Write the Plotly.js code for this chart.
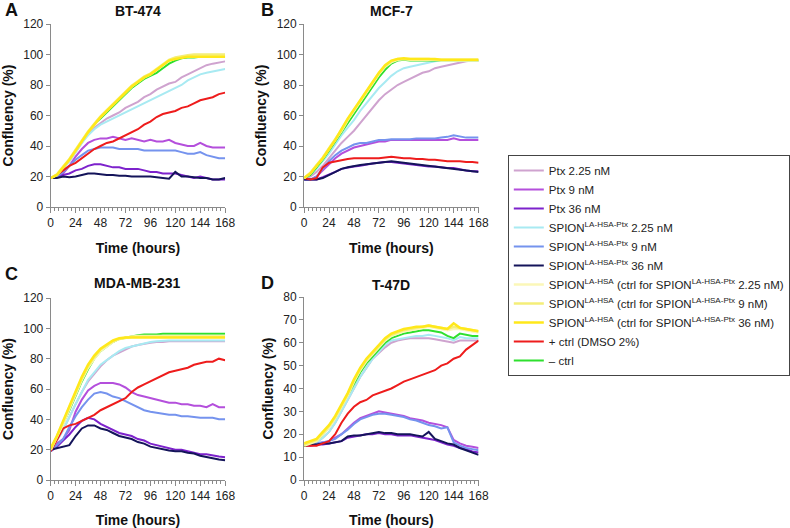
<!DOCTYPE html>
<html>
<head>
<meta charset="utf-8">
<script src="https://cdn.plot.ly/plotly-3.0.1.min.js"></script>
<style>html,body{margin:0;padding:0;background:#fff;}#chart{width:790px;height:528px;}</style>
</head>
<body>
<div id="chart"></div>
<script>
// Time points (hours)
const hours = [0,6,12,18,24,30,36,42,48,54,60,66,72,78,84,90,96,102,108,114,120,126,132,138,144,150,156,162,168];

const seriesNames = [
  'Ptx 2.25 nM',
  'Ptx 9 nM',
  'Ptx 36 nM',
  'SPION<sup>LA-HSA-Ptx</sup> 2.25 nM',
  'SPION<sup>LA-HSA-Ptx</sup> 9 nM',
  'SPION<sup>LA-HSA-Ptx</sup> 36 nM',
  'SPION<sup>LA-HSA</sup> (ctrl for SPION<sup>LA-HSA-Ptx</sup> 2.25 nM)',
  'SPION<sup>LA-HSA</sup> (ctrl for SPION<sup>LA-HSA-Ptx</sup> 9 nM)',
  'SPION<sup>LA-HSA</sup> (ctrl for SPION<sup>LA-HSA-Ptx</sup> 36 nM)',
  '+ ctrl (DMSO 2%)',
  '\u2013 ctrl'
];
const panelTitles = ['BT-474', 'MCF-7', 'MDA-MB-231', 'T-47D'];
const panelLetters = ['A', 'B', 'C', 'D'];

// Panel A: BT-474
const A_ptx225 = [19,21,25,30,36,42,48,52,55,58,60,62,65,67,69,72,74,77,79,81,82,85,87,89,91,93,94,95,95.5];
const A_ptx9   = [19,20,22,27,33,38,42,44,45,45,46,45,44,45,44,43,44,43,43,44,42,41,40,40,42,40,39,39,39];
const A_ptx36  = [19,20,21,22,24,25,27,28,28,27,26,26,25,25,25,24,23,23,22,22,22,21,20,19,20,19,18,18,18];
const A_sp225  = [19,21,25,30,36,42,47,51,54,56,58,60,62,64,66,68,70,72,74,76,78,80,83,85,87,88,89,90,90.5];
const A_sp9    = [19,20,23,27,31,34,37,38,39,39,39,38,38,38,38,37,37,37,37,37,37,36,35,35,36,34,33,32,32];
const A_sp36   = [19,19,20,19.5,20,21,22,22,21.5,21,21,20.5,20.5,20,20,20,20,19.5,19,18.5,23,20,20,19.5,19,19,18,18,19];
const A_c225   = [19,21,26,31,37,43,49,54,59,63,67,71,75,79,82,85,87,90,93,96,97.5,98.5,99,99,99,99,99,99,99];
const A_c9     = [19,21.5,26.5,31.5,37.5,43.5,49.5,54.5,59.5,63.5,67.5,71.5,75.5,79.5,82.5,85.5,87.5,90.5,93.5,96.5,98,99,99.5,100,100,100,100,100,100];
const A_c36    = [19,21,26,31,37,43,49,54,59,63,67,71,75,79,82,85,87,90,93,96,97,98,98.5,98.5,98.5,98.5,98.5,98.5,98.5];
const A_pos    = [19,21,24,27,29,32,35,38,40,42,43,45,47,49,51,54,56,59,61,62,63,65,66,68,70,71,72,74,75];
const A_neg    = [19,21,26,31,37,43,49,54,58,62,66,70,74,78,81,84,86,88,91,94,96,97.5,98,98,98.5,98.5,98.5,98.5,98.5];

// Panel B: MCF-7
const B_ptx225 = [19,20,23,27,32,37,42,46,50,55,60,65,70,74,77,80,82,84,86,88,89,91,92,93,94,95,95.5,96,96];
const B_ptx9   = [18,18,20,24,28,32,35,37,39,40,41,42,43,43,44,44,44,44,44,44,44,44,44,44,45,44,44,44,44];
const B_ptx36  = [18,18,18,19.5,21,23,25,26,26.5,27,28,28.5,29,29.5,29.5,29,28.5,28,27.5,27,26.5,26.5,26,25.5,25.5,24.5,24,23.5,23.5];
const B_sp225  = [19,21,25,30,35,41,47,52,57,63,68,73,78,82,86,89,91,92,93,94,95,95.5,96,96,96,96,96,96,96];
const B_sp9    = [18,18,20,25,30,34,37,39,41,42,42,43,44,44,44.5,44.5,44.5,44.5,45,45,45,45,45.5,46,47,46,45.5,45.5,45.5];
const B_sp36   = [18,18,18,19,21,23,25,26,27,27.5,28,28.5,29,29.5,30,29.5,29,28.5,28,27.5,27,26.5,26,25.5,25,24.5,24,23.5,23];
const B_c225   = [19,22,27,32,38,44,50,57,63,69,75,81,87,92,95,96.5,97,96.5,96.5,96.5,96.5,96.5,96,96,96,96,96,96,96];
const B_c9     = [19,22.5,27.5,32.5,38.5,44.5,50.5,57.5,63.5,69.5,75.5,81.5,87.5,92.5,95.5,97,97,97,97,97,97,96.5,96.5,96.5,96.5,96.5,96.5,96.5,96.5];
const B_c36    = [19,22,27,32,38,44,51,58,64,70,76,82,88,93,96,97,97.5,97,97,97,97,97,96.5,96.5,96.5,96.5,96.5,96.5,96.5];
const B_pos    = [19,18,19,26,29,30,31,31.5,32,32,32,32,32,32.5,33,32.5,32,32,31.5,31.5,31,31,30.5,30,30,30,29.5,29.5,29];
const B_neg    = [19,21,26,31,37,43,49,55,61,67,73,79,85,90,94,96,96.5,96,96,96,96,96,96,96,96,96,96,96,96];

// Panel C: MDA-MB-231
const C_ptx225 = [20,26,33,42,50,58,65,70,75,79,82,84,86,88,89,90,90.5,91,91,91.5,91.5,91.5,91.5,91.5,91.5,91.5,91.5,91.5,91.5];
const C_ptx9   = [19,24,27,33,45,53,59,62,64,64,64,63,61,58,56,55,54,53,52,51,51,50,50,49,49,48,50,48,48];
const C_ptx36  = [19,22,26,30,35,39,41,40,37,35,33,31,30,29,27,26,24,23,22,21,20,20,19,18,17,17,16,15.5,15];
const C_sp225  = [20,26,33,42,50,58,66,71,76,79,82,85,87,88,89,90,91,91.5,92,92,92,92,92,92,92,92,92,92,92];
const C_sp9    = [19,23,27,35,42,48,53,57,58,57,55,54,52,50,48,46,45,44.5,44,43,43,42,42,41.5,41,41,41,40,40];
const C_sp36   = [20,21,22,23,29,34,36,36,34,33,31,29,28,27,25,24,22,21,20,19.5,19,19,18,17.5,16,15,14,13.5,13];
const C_c225   = [20,28,37,47,57,66,74,80,85,88,91,93,94,94.5,95,95,95,95,95,95,95,95,95,95,95,95,95,95,95];
const C_c9     = [20,28.5,38,48,58,67,75,81,86,89,91.5,93,94,94.5,94.5,94.5,94.5,94.5,94.5,94.5,94.5,94.5,94.5,94.5,94.5,94.5,94.5,94.5,94.5];
const C_c36    = [21,29,39,49,59,68,76,82,86.5,89.5,92,93.5,94,94,94,94,94,94,94,94,94,94,94,94,94,94,94,94,94];
const C_pos    = [19,27,34,36,37,39,41,43,46,48,50,52,54,58,61,63,65,67,69,71,72,73,74,76,77,78,78,80,79];
const C_neg    = [20,28,37,46,56,65,73,80,85,88,91,93,94,95,95.5,96,96,96,96.5,96.5,96.5,96.5,96.5,96.5,96.5,96.5,96.5,96.5,96.5];

// Panel D: T-47D
const D_ptx225 = [15,15.5,16.5,18.5,21,25,30,35,40,45,49,53,55.5,58,60,61,61.5,62,62,62,62,61.5,61,60.5,60,61,61,61,61];
const D_ptx9   = [15,15.5,16,16.5,17,18.5,20,22.5,25,27,28,29,30,29.5,29,28.5,28,27,26.5,26,25,24.5,24,23,17.5,16,15,14.5,14];
const D_ptx36  = [15,15,15.5,15.5,16,16.5,17,18.5,19,19.5,20,20,20.5,20,20,19.5,19.5,19.5,19,18.5,18,17.5,16.5,15.5,15,14,13.5,12.5,12];
const D_sp225  = [15,15.5,16.5,18.5,21,25,30,35,40,45,49,53,56,59,61,61.5,62,62.5,63,63,63.5,63,62.5,62,61,62.5,62,62,62];
const D_sp9    = [15,15.5,16,16.5,17,18,20,22,24.5,26.5,27.5,28.5,29,29,28.5,28,27.5,26.5,26,25,24,23.5,22.5,23,16.5,15,14,13.5,13];
const D_sp36   = [15,15.5,15.5,16,16,16.5,17,19,19.5,19.5,20,20.5,21,20.5,20.5,20,20,20,19.5,19,21,18,17,16,15.5,14,13,12,11];
const D_c225   = [15,16,17,20,23,27,32,37,43,48,52,55,58,61,63,64,65,65.5,66,66.5,67,66.5,66,65.5,66,66,65.5,65,64.5];
const D_c9     = [15.5,16.5,17.5,20.5,23.5,27.5,32.5,37.5,43.5,48.5,52.5,55.5,58.5,61.5,63.5,64.5,65.5,66,66.5,67,67.5,67,66.5,66,67,66.5,66,65.5,65];
const D_c36    = [16,17,18,21,24,28,33,38,44,49,53,56,59,62,64,65,66,66.5,67,67,67.5,67,66.5,66,68.5,66.5,66,65.5,65];
const D_pos    = [15,15,15,16,17,20,25,29,32,34,35,37,38,39,40,41.5,43,44,45,46,47,48,50,51,53,54,57,59,61];
const D_neg    = [15,16,17,20,23,27,32,37,42,47,51,54,57,60,62,63,64,64.5,65,65.5,65.5,65,64.5,63,62,64,63.5,63,63];

const panelData = [
  [A_ptx225,A_ptx9,A_ptx36,A_sp225,A_sp9,A_sp36,A_c225,A_c9,A_c36,A_pos,A_neg],
  [B_ptx225,B_ptx9,B_ptx36,B_sp225,B_sp9,B_sp36,B_c225,B_c9,B_c36,B_pos,B_neg],
  [C_ptx225,C_ptx9,C_ptx36,C_sp225,C_sp9,C_sp36,C_c225,C_c9,C_c36,C_pos,C_neg],
  [D_ptx225,D_ptx9,D_ptx36,D_sp225,D_sp9,D_sp36,D_c225,D_c9,D_c36,D_pos,D_neg]
];

const yRanges = [[0,120],[0,120],[0,120],[0,80]];
const yDticks = [20,20,20,10];

// styling
const colors = ['#cfa3cf','#b44fdc','#7d22cc','#a8eaf2','#7593ee','#14145a','#fbf7b8','#f4ee78','#ffe81a','#ee1c1c','#2ee02e'];
const widths = [2,2,2,2,2,2,2.5,2.5,2.5,2,2];
// drawing order (legend order kept via legendrank)
const drawOrder = [0,1,2,3,4,5,9,10,6,7,8];

const FONT = 'Liberation Sans, Arial, Helvetica, sans-serif';
const W = 790, H = 528;
const xDom = [[52/W, 231/W],[312/W, 491/W],[52/W, 231/W],[312/W, 491/W]];
const yDom = [[1-207/H, 1-24/H],[1-207/H, 1-24/H],[1-480/H, 1-298/H],[1-480/H, 1-297/H]];

const traces = [];
for (let p = 0; p < 4; p++) {
  for (const s of drawOrder) {
    traces.push({
      x: hours, y: panelData[p][s],
      type: 'scatter', mode: 'lines',
      name: seriesNames[s],
      line: {color: colors[s], width: widths[s]},
      xaxis: p === 0 ? 'x' : 'x' + (p+1),
      yaxis: p === 0 ? 'y' : 'y' + (p+1),
      showlegend: p === 0,
      legendrank: s + 1,
      hoverinfo: 'skip'
    });
  }
}

const layout = {
  width: W, height: H,
  margin: {l:0, r:0, t:0, b:0},
  paper_bgcolor: '#fff', plot_bgcolor: '#fff',
  font: {family: FONT, size: 12, color: '#222'},
  showlegend: true,
  legend: {
    x: 521/W, y: 1-155/H, xanchor: 'left', yanchor: 'top',
    bgcolor: '#fff', bordercolor: '#444', borderwidth: 1,
    font: {family: FONT, size: 11.5, color: '#222'},
    itemwidth: 30, traceorder: 'normal'
  },
  annotations: []
};

for (let p = 0; p < 4; p++) {
  const xk = p === 0 ? 'xaxis' : 'xaxis' + (p+1);
  const yk = p === 0 ? 'yaxis' : 'yaxis' + (p+1);
  layout[xk] = {
    domain: xDom[p], range: [0,168], anchor: p === 0 ? 'y' : 'y' + (p+1),
    tick0: 0, dtick: 24, ticks: 'outside', ticklen: 5, tickcolor: '#8a8a8a', tickwidth: 1,
    showline: true, linecolor: '#8a8a8a', linewidth: 1,
    showgrid: false, zeroline: false,
    tickfont: {family: FONT, size: 12, color: '#222'},
    minor: {dtick: 4, tick0: 0, ticks: 'outside', ticklen: 3, tickcolor: '#8a8a8a', showgrid: false},
    title: {text: 'Time (hours)', font: {family: FONT, size: 14, color: '#111', weight: 'bold'}, standoff: 13},
    fixedrange: true
  };
  layout[yk] = {
    domain: yDom[p], range: yRanges[p], anchor: p === 0 ? 'x' : 'x' + (p+1),
    tick0: 0, dtick: yDticks[p], ticks: 'outside', ticklen: 4, tickcolor: '#8a8a8a', tickwidth: 1,
    showline: true, linecolor: '#8a8a8a', linewidth: 1,
    showgrid: false, zeroline: false,
    tickfont: {family: FONT, size: 12, color: '#222'},
    title: {text: 'Confluency (%)', font: {family: FONT, size: 14, color: '#111', weight: 'bold'}, standoff: 6},
    fixedrange: true
  };
  const xc = (xDom[p][0] + xDom[p][1]) / 2;
  const titleY = [11, 11, 283, 285][p];
  layout.annotations.push({
    text: '<b>' + panelTitles[p] + '</b>', xref: 'paper', yref: 'paper',
    x: xc, y: 1 - titleY/H, xanchor: 'center', yanchor: 'middle', showarrow: false,
    font: {family: FONT, size: 14, color: '#111'}
  });
  const lx = [3, 266, 3, 266][p];
  const ly = [10, 10, 274, 283][p];
  layout.annotations.push({
    text: '<b>' + panelLetters[p] + '</b>', xref: 'paper', yref: 'paper',
    x: lx/W, y: 1 - ly/H, xanchor: 'left', yanchor: 'middle', showarrow: false,
    font: {family: FONT, size: 18, color: '#111'}
  });
}

Plotly.newPlot('chart', traces, layout, {displayModeBar: false, staticPlot: true});
</script>
</body>
</html>
